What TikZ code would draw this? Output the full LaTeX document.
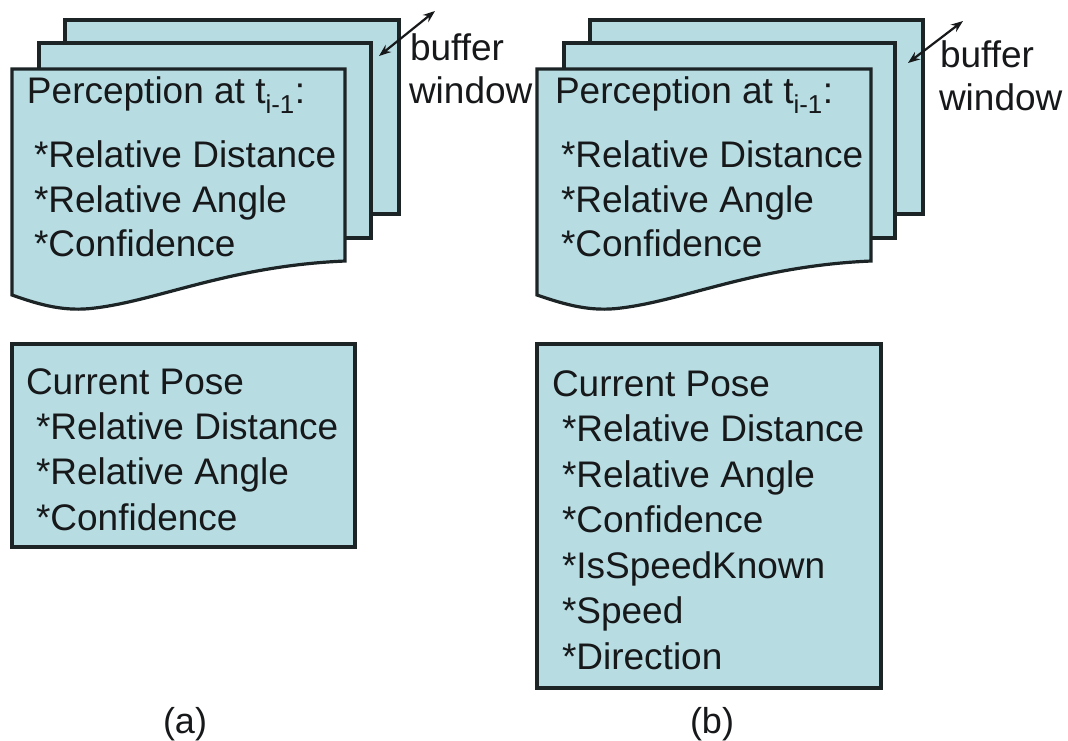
\documentclass[tikz,border=0pt]{standalone}
\usepackage{fontspec}
\setmainfont{Liberation Sans}
\usetikzlibrary{arrows.meta}
\definecolor{sheetfill}{RGB}{183,221,227}
\definecolor{edge}{RGB}{28,36,38}
\definecolor{ink}{RGB}{22,24,26}
\tikzset{
  sheet/.style={fill=sheetfill, draw=edge, line width=3.2pt, line join=miter},
  txt/.style={anchor=base west, inner sep=0pt, outer sep=0pt, text=ink, font=\fontsize{37}{44}\selectfont},
  caption/.style={anchor=base, inner sep=0pt, text=ink, font=\fontsize{36}{44}\selectfont},
  bufarrow/.style={draw=ink, line width=2.2pt, {Stealth[length=12pt,width=9pt]}-{Stealth[length=12pt,width=9pt]}}
}
\begin{document}
\begin{tikzpicture}[x=1pt,y=-1pt]
\useasboundingbox (0,0) rectangle (1068,740);

% ---------------- panel (a) ----------------
\draw[sheet] (65,20) rectangle (399,214);
\draw[sheet] (39,43) rectangle (371,238);
\draw[sheet] (12,69) -- (345,69) -- (345,261)
  .. controls (230,266) and (160,300) .. (95,308)
  .. controls (65,312) and (40,305) .. (12,295) -- cycle;

\node[txt] (pa0) at (27,103) {Perception at t\textsubscript{i-1}:};
\node[txt] (pa1) at (34,167) {*Relative Distance};
\node[txt] (pa2) at (34,212) {*Relative Angle};
\node[txt] (pa3) at (34,256) {*Confidence};

\coordinate (aa1) at (379,56);
\coordinate (aa2) at (435,11);
\draw[bufarrow] (aa1) -- (aa2);
\node[txt] (buf1) at (410,60) {buffer};
\node[txt] (win1) at (409,103) {window};

\draw[sheet] (12,344) rectangle (355,547);
\node[txt] (ca0) at (26,394) {Current Pose};
\node[txt] (ca1) at (36,439) {*Relative Distance};
\node[txt] (ca2) at (36,484.5) {*Relative Angle};
\node[txt] (ca3) at (36,530) {*Confidence};

\node[caption] (capa) at (185,733) {(a)};

% ---------------- panel (b) ----------------
\draw[sheet] (590,20) rectangle (923,214);
\draw[sheet] (564,43) rectangle (895,238);
\draw[sheet] (537,69) -- (871,69) -- (871,261)
  .. controls (756,266) and (686,300) .. (621,308)
  .. controls (591,312) and (566,305) .. (537,295) -- cycle;

\node[txt] (pb0) at (555,103) {Perception at t\textsubscript{i-1}:};
\node[txt] (pb1) at (561,167) {*Relative Distance};
\node[txt] (pb2) at (561,212) {*Relative Angle};
\node[txt] (pb3) at (561,256) {*Confidence};

\coordinate (ab1) at (908,63);
\coordinate (ab2) at (963,21);
\draw[bufarrow] (ab1) -- (ab2);
\node[txt] (buf2) at (940,67) {buffer};
\node[txt] (win2) at (939,110) {window};

\draw[sheet] (537,344) rectangle (881,688);
\node[txt] (cb0) at (552,396) {Current Pose};
\node[txt] (cb1) at (562,441.5) {*Relative Distance};
\node[txt] (cb2) at (562,487) {*Relative Angle};
\node[txt] (cb3) at (562,532.5) {*Confidence};
\node[txt] (cb4) at (562,578) {*IsSpeedKnown};
\node[txt] (cb5) at (562,623.5) {*Speed};
\node[txt] (cb6) at (562,669) {*Direction};

\node[caption] (capb) at (712,733) {(b)};
\end{tikzpicture}
\end{document}
